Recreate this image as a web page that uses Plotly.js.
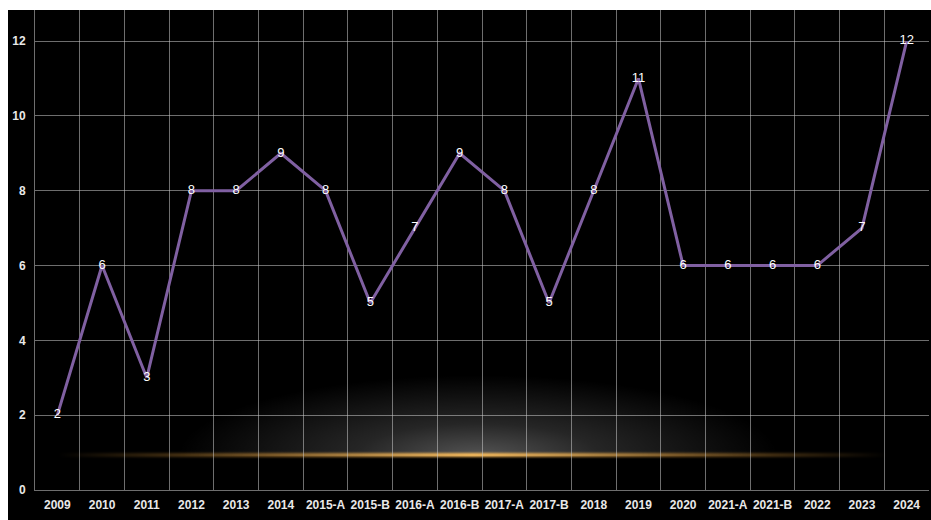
<!DOCTYPE html>
<html><head><meta charset="utf-8">
<script src="https://cdn.plot.ly/plotly-3.0.1.min.js"></script>
<style>
html,body{margin:0;padding:0;background:#fff;}
#wrap{position:absolute;left:8px;top:10px;width:923px;height:510px;background:#000;overflow:hidden;}
#glow{position:absolute;left:170px;top:365px;width:600px;height:81px;
 background:radial-gradient(ellipse 50% 100% at 50% 100%, rgba(255,255,255,0.33) 0%, rgba(255,255,255,0.15) 40%, rgba(255,255,255,0) 100%);}
#line{position:absolute;left:50px;top:443px;width:830px;height:4px;
 background:linear-gradient(to right, rgba(230,160,60,0) 0%, rgba(230,160,60,0.5) 25%, rgba(245,185,90,1) 50%, rgba(230,160,60,0.5) 75%, rgba(230,160,60,0) 100%);
 filter:blur(0.8px);}
#chart{position:absolute;left:0;top:0;width:923px;height:510px;}
</style></head>
<body>
<div id="wrap"><div id="glow"></div><div id="line"></div><div id="chart"></div></div>
<script>
const categories = ["2009","2010","2011","2012","2013","2014","2015-A","2015-B","2016-A","2016-B","2017-A","2017-B","2018","2019","2020","2021-A","2021-B","2022","2023","2024"];
const values = [2,6,3,8,8,9,8,5,7,9,8,5,8,11,6,6,6,6,7,12];
const yTicks = [0,2,4,6,8,10,12];

const trace = {
  x: categories, y: values, type: 'scatter', mode: 'lines+text',
  text: values.map(String), textposition: 'middle center',
  textfont: {family: 'Liberation Sans, Arial, sans-serif', size: 13, color: '#ffffff'},
  line: {color: 'rgb(128,96,162)', width: 3},
  hoverinfo: 'none'
};
const layout = {
  width: 923, height: 510,
  paper_bgcolor: 'rgba(0,0,0,0)', plot_bgcolor: 'rgba(0,0,0,0)',
  margin: {l: 27, r: 2, t: 0, b: 30},
  showlegend: false,
  font: {family: 'Liberation Sans, Arial, sans-serif', size: 12, color: '#e8e8e8'},
  xaxis: {type: 'category', range: [-0.5, 19.5], tickson: 'boundaries', ticks: '', tickangle: 0,
    showgrid: true, gridcolor: 'rgba(200,200,200,0.55)', gridwidth: 1,
    showline: true, linecolor: 'rgba(200,200,200,0.55)', mirror: false,
    tickfont: {family: 'Liberation Sans, Arial, sans-serif', size: 12, color: '#e8e8e8', weight: 'bold'},
    ticklabelstandoff: 4, automargin: false, fixedrange: true},
  yaxis: {range: [0, 12.83], tickvals: yTicks, ticktext: yTicks.map(String), ticks: '',
    showgrid: true, gridcolor: 'rgba(200,200,200,0.55)', gridwidth: 1, zeroline: false,
    showline: true, linecolor: 'rgba(200,200,200,0.55)',
    tickfont: {family: 'Liberation Sans, Arial, sans-serif', size: 12, color: '#e8e8e8', weight: 'bold'},
    ticklabelstandoff: 6, automargin: false, fixedrange: true}
};
Plotly.newPlot('chart', [trace], layout, {displayModeBar: false, staticPlot: true});
</script>
</body></html>
